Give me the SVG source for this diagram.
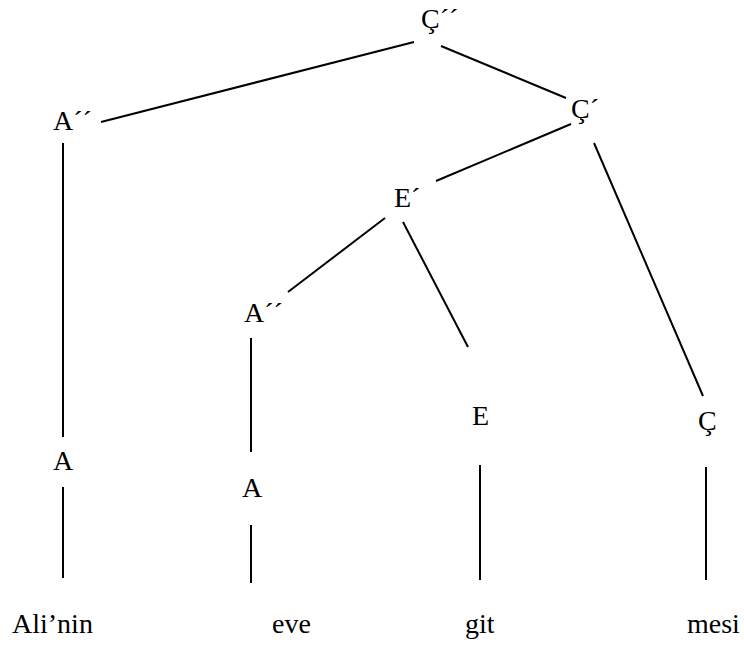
<svg xmlns="http://www.w3.org/2000/svg" width="744" height="646" viewBox="0 0 744 646">
  <style>
    .lbl { font-size: 28px; fill: #000; }
    .edge { stroke: #000; stroke-width: 2; fill: none; }
  </style>
  <rect width="744" height="646" fill="#fff"/>

  <!-- tree branches -->
  <g id="connectors">
    <line class="edge" x1="414" y1="42" x2="101" y2="122"/>
    <line class="edge" x1="441" y1="46" x2="566" y2="98"/>
    <line class="edge" x1="571" y1="124" x2="436" y2="181"/>
    <line class="edge" x1="594" y1="143" x2="703" y2="396"/>
    <line class="edge" x1="385" y1="218" x2="288" y2="292"/>
    <line class="edge" x1="403" y1="222" x2="468" y2="347"/>
    <line class="edge" x1="63" y1="143" x2="63" y2="437"/>
    <line class="edge" x1="63" y1="487" x2="63" y2="578"/>
    <line class="edge" x1="251" y1="338" x2="251" y2="452"/>
    <line class="edge" x1="251" y1="525" x2="251" y2="583"/>
    <line class="edge" x1="480" y1="465" x2="480" y2="580"/>
    <line class="edge" x1="706" y1="467" x2="706" y2="580"/>
  </g>

  <g font-family="Liberation Serif">
    <!-- phrase-structure labels -->
    <g id="n-CPP"><text class="lbl" x="421" y="28">Ç´´</text></g>
    <g id="n-APP1"><text class="lbl" x="53" y="130">A´´</text></g>
    <g id="n-CP"><text class="lbl" x="571" y="118">Ç´</text></g>
    <g id="n-EP"><text class="lbl" x="394" y="207">E´</text></g>
    <g id="n-APP2"><text class="lbl" x="244" y="322">A´´</text></g>
    <g id="n-A1"><text class="lbl" x="53" y="470">A</text></g>
    <g id="n-A2"><text class="lbl" x="242" y="497">A</text></g>
    <g id="n-E"><text class="lbl" x="472" y="425">E</text></g>
    <g id="n-C"><text class="lbl" x="698" y="430">Ç</text></g>

    <!-- words -->
    <g id="w-alinin"><text class="lbl" x="12" y="633">Ali’nin</text></g>
    <g id="w-eve"><text class="lbl" x="272" y="633">eve</text></g>
    <g id="w-git"><text class="lbl" x="465" y="633">git</text></g>
    <g id="w-mesi"><text class="lbl" x="687" y="633">mesi</text></g>
  </g>
</svg>
